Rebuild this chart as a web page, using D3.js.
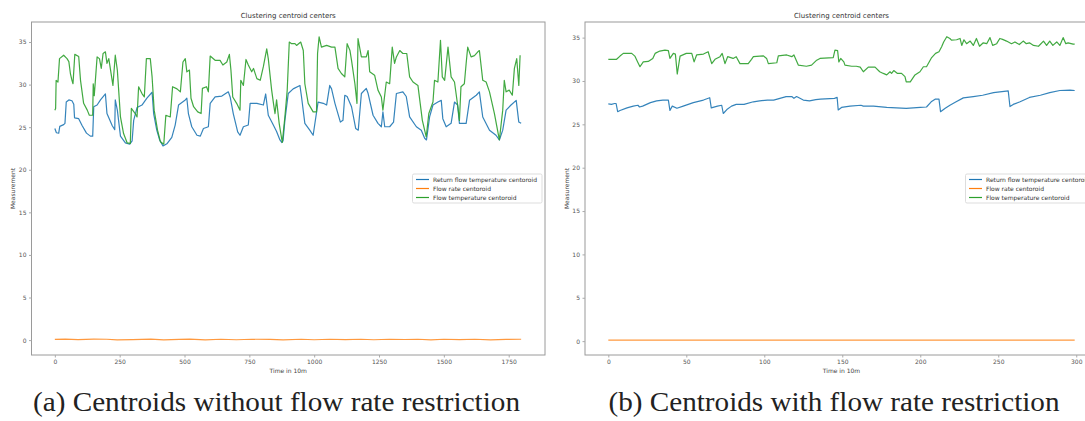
<!DOCTYPE html>
<html>
<head>
<meta charset="utf-8">
<script src="https://cdn.jsdelivr.net/npm/d3@7"></script>
<style>
  body { margin: 0; background: #fff; }
  svg { display: block; }
</style>
</head>
<body>
<div id="chart"></div>
<script>
// series, [time index, value]
const returnA = [[0,24.85],[6,24.35],[15,24.3],[19,25.1],[34,25.3],[39,25.45],[44,27.95],[54,28.2],[66,28.1],[73,27.7],[76,26.1],[92,26.0],[105,25.2],[122,24.3],[137,23.95],[146,23.95],[150,27.4],[163,27.6],[176,28.2],[195,28.9],[201,26.6],[221,25.2],[231,24.7],[233,28.2],[241,27.0],[253,23.95],[272,23.15],[289,23.0],[298,23.4],[304,25.8],[317,27.3],[336,27.6],[355,28.4],[375,29.1],[381,26.6],[393,24.65],[404,23.5],[417,22.8],[432,23.05],[451,23.8],[464,25.25],[477,27.6],[503,28.2],[509,28.4],[515,26.6],[528,25.05],[548,24.05],[561,23.95],[573,24.85],[592,25.05],[599,27.8],[618,28.55],[644,28.65],[669,29.15],[676,28.55],[688,26.6],[705,24.45],[714,24.05],[727,25.05],[746,25.25],[753,27.8],[779,27.8],[804,27.6],[813,28.9],[823,26.4],[840,25.4],[855,24.5],[868,23.5],[875,23.2],[880,23.4],[887,25.8],[900,28.95],[919,29.5],[945,29.9],[951,28.6],[964,25.45],[983,24.65],[996,24.05],[1015,27.95],[1035,27.8],[1048,27.6],[1060,29.9],[1067,29.5],[1080,27.8],[1101,25.6],[1111,25.8],[1118,28.75],[1127,28.6],[1144,27.4],[1160,24.85],[1170,24.65],[1182,28.95],[1201,29.55],[1208,28.95],[1227,26.4],[1246,25.45],[1259,25.05],[1265,26.8],[1272,25.05],[1291,25.05],[1306,25.6],[1317,28.95],[1342,29.15],[1355,28.6],[1368,26.2],[1394,25.05],[1413,24.65],[1426,23.7],[1433,23.5],[1445,26.2],[1458,27.6],[1477,27.95],[1490,28.15],[1496,26.0],[1509,25.05],[1528,25.45],[1541,27.95],[1553,27.6],[1560,25.45],[1586,25.45],[1599,28.15],[1625,28.75],[1637,29.15],[1650,26.2],[1676,24.65],[1701,24.05],[1714,23.5],[1727,24.65],[1740,27.0],[1759,27.6],[1779,28.15],[1789,25.6],[1798,25.45]];

const flowA = [[0,27.0],[3,27.2],[5,30.5],[12,30.3],[18,33.05],[34,33.45],[47,33.05],[54,32.7],[60,31.3],[66,30.5],[70,30.1],[77,33.55],[92,33.3],[99,30.5],[111,27.8],[125,27.0],[133,26.4],[146,26.4],[148,30.1],[152,28.7],[163,33.25],[172,33.05],[179,31.9],[186,33.65],[195,33.85],[201,32.5],[208,33.05],[224,29.9],[233,33.45],[241,31.7],[253,26.2],[265,24.25],[279,23.15],[291,23.1],[295,27.2],[310,26.6],[317,26.2],[323,29.75],[336,28.95],[345,28.55],[353,33.05],[368,33.05],[375,30.9],[383,27.0],[396,24.65],[407,23.3],[420,23.0],[428,26.4],[445,26.2],[454,29.75],[471,29.5],[484,29.15],[494,32.65],[503,33.05],[509,31.5],[519,31.7],[525,28.4],[535,27.4],[551,26.8],[564,26.6],[569,29.55],[585,29.75],[592,29.15],[599,33.35],[618,32.85],[637,32.85],[648,32.3],[663,32.65],[673,33.55],[679,31.7],[686,28.55],[701,27.8],[714,27.0],[717,30.5],[727,29.9],[737,32.95],[746,32.3],[759,31.5],[766,31.9],[779,30.7],[792,30.5],[804,32.1],[817,34.2],[823,33.05],[836,29.35],[843,27.8],[849,26.6],[855,28.2],[865,25.45],[877,23.2],[887,26.2],[896,29.35],[904,35.0],[913,34.8],[926,34.8],[932,34.6],[948,35.0],[958,34.0],[964,30.1],[977,27.8],[996,26.8],[1009,26.8],[1013,33.65],[1019,35.6],[1028,34.4],[1048,34.6],[1067,34.4],[1080,34.4],[1092,31.9],[1105,31.3],[1118,30.9],[1127,34.8],[1138,34.0],[1144,32.85],[1157,30.1],[1165,27.8],[1169,35.4],[1182,33.25],[1201,33.25],[1208,34.0],[1214,31.5],[1233,31.1],[1246,29.35],[1259,28.55],[1265,27.0],[1278,30.3],[1291,30.1],[1301,34.4],[1310,32.5],[1317,33.25],[1330,34.0],[1342,33.65],[1357,33.65],[1368,30.9],[1381,30.3],[1400,29.9],[1417,25.8],[1432,23.85],[1442,26.6],[1458,27.95],[1464,30.5],[1477,30.3],[1487,35.2],[1494,30.9],[1503,30.5],[1516,34.4],[1528,30.9],[1541,30.3],[1554,27.4],[1560,25.8],[1566,29.75],[1579,30.1],[1586,32.5],[1592,34.4],[1605,33.25],[1618,33.4],[1631,33.85],[1637,34.0],[1650,30.5],[1663,30.3],[1676,29.15],[1695,26.6],[1714,23.5],[1727,27.0],[1733,30.5],[1740,29.15],[1752,29.35],[1764,28.75],[1772,31.9],[1781,33.05],[1789,29.9],[1794,33.45]];

const rateA = [[0,0.08],[40,0.12],[90,0.05],[150,0.12],[200,0.1],[240,0.02],[300,0.06],[370,0.12],[420,0.03],[480,0.08],[520,0.12],[580,0.03],[640,0.1],[700,0.04],[760,0.1],[830,0.08],[880,0.03],[950,0.1],[1000,0.04],[1060,0.1],[1120,0.06],[1180,0.1],[1230,0.04],[1290,0.1],[1350,0.07],[1400,0.1],[1450,0.03],[1500,0.1],[1560,0.05],[1620,0.1],[1680,0.03],[1740,0.09],[1798,0.1]];

const returnB = [[0,27.35],[2,27.3],[4,27.4],[5,27.4],[6,26.45],[7.5,26.6],[12,26.9],[16,27.1],[19,27.2],[20,27.0],[22,27.1],[27,27.5],[31,27.7],[35,27.8],[38.5,27.8],[39.5,26.6],[41,27.1],[44,26.85],[48,27.1],[54.5,27.5],[61,27.8],[65,28.07],[66,26.9],[70,27.1],[72.7,27.2],[73.7,26.25],[76,26.7],[79,27.1],[82,27.3],[87,27.3],[93,27.6],[97,27.7],[102,27.8],[106,27.8],[110,28.0],[114,28.2],[117.6,28.2],[119,28.0],[120.7,28.2],[125,27.8],[129,27.7],[133,27.85],[136,27.9],[145,28.0],[146.7,28.1],[147.4,26.65],[149.5,26.95],[155,27.1],[162,27.2],[163.5,27.1],[170,27.1],[178.5,26.95],[191,26.85],[200,26.95],[204,27.0],[207,27.6],[209.5,27.9],[212,27.9],[213,26.45],[216,26.85],[219,27.2],[223,27.6],[227.6,28.05],[234,28.2],[240,28.35],[247,28.65],[251,28.75],[256.4,28.85],[257.5,27.05],[259.6,27.3],[264,27.6],[270,28.1],[277,28.35],[283,28.65],[289.5,28.9],[296,28.95],[299,28.9]];

const flowB = [[0,32.5],[5.3,32.5],[7.5,32.87],[9.6,33.18],[15,33.18],[17,32.87],[18.8,32.2],[20.3,31.64],[22.4,32.2],[25.6,32.25],[28.5,32.6],[30,33.18],[33,33.45],[36.3,33.56],[38.5,33.5],[39.5,32.6],[41.7,33.18],[43,33.1],[44.2,30.8],[46,32.87],[50,33.18],[53.5,33.18],[55,32.2],[56.6,33.0],[61,33.1],[64,33.37],[66.3,32.0],[68.4,32.5],[71.6,32.8],[73,33.18],[74.8,32.0],[76.5,32.8],[80,32.6],[82,32.8],[84.4,32.0],[89.7,32.0],[91.8,32.5],[93,32.8],[99.3,32.9],[101.5,32.6],[102.6,32.0],[108,32.1],[109,32.9],[114.4,33.0],[117.6,32.8],[119,33.0],[121.8,31.83],[127,31.7],[130.3,31.83],[133.6,32.4],[135.7,32.6],[144.2,32.7],[145.3,33.56],[147,33.5],[147.8,32.2],[149,32.6],[151,32.2],[151.7,31.83],[156,31.7],[159,31.7],[161.5,31.6],[163.5,31.06],[166.7,31.6],[171,31.6],[174,31.06],[176.3,30.87],[178.5,30.7],[180.6,31.06],[181.6,30.87],[183,31.2],[185.4,30.87],[188,30.87],[190.2,30.5],[191,29.9],[193.6,29.9],[196.6,30.7],[199.8,31.06],[202,31.64],[204,31.64],[207.3,32.7],[209.8,33.18],[212,33.37],[213.7,33.94],[215,34.5],[217,35.1],[219,34.9],[220,34.7],[223.3,34.75],[225.5,34.9],[226.6,34.1],[228,34.75],[229.7,34.3],[232,34.6],[234,34.1],[236,34.9],[238,34.0],[240.4,34.4],[242.6,34.3],[244.7,35.0],[246.4,34.1],[249,34.3],[251,34.9],[252.8,34.8],[255.3,34.6],[258.5,34.3],[260.7,34.5],[263.5,34.2],[266,34.6],[268,34.3],[270,34.4],[272.6,34.1],[275.8,34.0],[279,34.6],[281,34.1],[283,34.6],[285,34.1],[287.5,34.5],[289.5,34.1],[291.6,35.0],[293.3,34.3],[294.8,34.4],[298,34.25],[299,34.25]];

const rateB = [[0,0.12],[150,0.12],[299,0.12]];

const seriesNames = ["Return flow temperature centoroid", "Flow rate centoroid", "Flow temperature centoroid"];
const seriesColors = ["#1f77b4", "#ff7f0e", "#2ca02c"];
const yTicks = [0, 5, 10, 15, 20, 25, 30, 35];
const xTicksA = [0, 250, 500, 750, 1000, 1250, 1500, 1750];
const xTicksB = [0, 50, 100, 150, 200, 250, 300];
const captions = ["(a) Centroids without flow rate restriction", "(b) Centroids with flow rate restriction"];

const W = 1085, H = 421;
const svg = d3.select("#chart").append("svg").attr("width", W).attr("height", H);

const panels = [
  { left: 31.5, right: 545, top: 22, bottom: 355, xDomain: [-90, 1890], yDomain: [-1.75, 37.35],
    xTicks: xTicksA, series: [returnA, rateA, flowA], ylabelX: 12.5, legendX: 412.5, caption: captions[0], capX: 276.5, capW: 487 },
  { left: 585, right: 1098, top: 22, bottom: 355, xDomain: [-14.95, 313.95], yDomain: [-1.6, 36.8],
    xTicks: xTicksB, series: [returnB, rateB, flowB], ylabelX: 567, legendX: 965.5, caption: captions[1], capX: 834, capW: 451 }
];

panels.forEach(p => {
  const x = d3.scaleLinear().domain(p.xDomain).range([p.left, p.right]);
  const y = d3.scaleLinear().domain(p.yDomain).range([p.bottom, p.top]);
  const g = svg.append("g");

  const line = d3.line().x(d => x(d[0])).y(d => y(d[1]));
  // order: return, rate, flow (legend order)
  p.series.forEach((s, i) => {
    g.append("path")
      .datum(s)
      .attr("d", line)
      .attr("fill", "none")
      .attr("stroke", seriesColors[i])
      .attr("stroke-width", 1.2)
      .attr("stroke-opacity", i === 1 ? 0.8 : 0.9)
      .attr("stroke-linejoin", "round");
  });

  // frame
  g.append("rect")
    .attr("x", p.left).attr("y", p.top)
    .attr("width", p.right - p.left).attr("height", p.bottom - p.top)
    .attr("fill", "none").attr("stroke", "#9a9a9a").attr("stroke-width", 1);

  const xAxis = g.append("g")
    .attr("transform", `translate(0,${p.bottom})`)
    .call(d3.axisBottom(x).tickValues(p.xTicks).tickSize(2.5).tickPadding(2).tickFormat(d3.format("d")));
  const yAxis = g.append("g")
    .attr("transform", `translate(${p.left},0)`)
    .call(d3.axisLeft(y).tickValues(yTicks).tickSize(2.5).tickPadding(2.5));
  [xAxis, yAxis].forEach(a => {
    a.select(".domain").remove();
    a.selectAll("line").attr("stroke", "#aaa");
    a.selectAll("text").attr("fill", "#555").style("font-family", "DejaVu Sans").style("font-size", "6px");
  });

  g.append("text")
    .attr("x", (p.left + p.right) / 2).attr("y", 17.5)
    .attr("text-anchor", "middle")
    .style("font-family", "DejaVu Sans").style("font-size", "7px").attr("fill", "#333")
    .text("Clustering centroid centers");

  g.append("text")
    .attr("x", (p.left + p.right) / 2).attr("y", 373)
    .attr("text-anchor", "middle")
    .style("font-family", "DejaVu Sans").style("font-size", "6px").attr("fill", "#444")
    .text("Time in 10m");

  g.append("text")
    .attr("transform", `translate(${p.ylabelX},${(p.top + p.bottom) / 2}) rotate(-90)`)
    .attr("text-anchor", "middle").attr("dy", "0.35em")
    .style("font-family", "DejaVu Sans").style("font-size", "6px").attr("fill", "#444")
    .text("Measurement");

  // legend
  const lg = g.append("g").attr("transform", `translate(${p.legendX},174)`);
  lg.append("rect")
    .attr("width", 129.5).attr("height", 29).attr("rx", 1.5)
    .attr("fill", "#fff").attr("fill-opacity", 0.85)
    .attr("stroke", "#ddd").attr("stroke-width", 1);
  seriesNames.forEach((name, i) => {
    const yy = 5.5 + i * 9;
    lg.append("line")
      .attr("x1", 3.5).attr("x2", 16.5).attr("y1", yy).attr("y2", yy)
      .attr("stroke", seriesColors[i]).attr("stroke-width", 1.2);
    lg.append("text")
      .attr("x", 20.5).attr("y", yy).attr("dy", "0.35em")
      .style("font-family", "DejaVu Sans").style("font-size", "6px").attr("fill", "#333")
      .text(name);
  });

  svg.append("text")
    .attr("x", p.capX).attr("y", 411)
    .attr("text-anchor", "middle")
    .attr("textLength", p.capW).attr("lengthAdjust", "spacingAndGlyphs")
    .style("font-family", "Liberation Serif").style("font-size", "27px").attr("fill", "#222")
    .text(p.caption);
});
</script>
</body>
</html>
